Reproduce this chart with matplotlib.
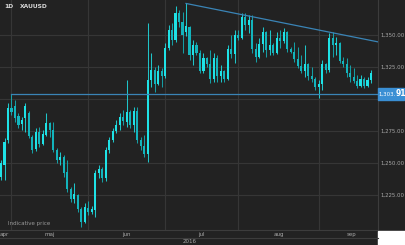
import numpy as np
import matplotlib
matplotlib.use("Agg")
import matplotlib.pyplot as plt

# daily XAUUSD candles, late Apr - mid Sep 2016
opens = [1239.0, 1248.4, 1267.9, 1293.0, 1294.5, 1286.7, 1280.4, 1285.1, 1289.0, 1270.5,
         1261.0, 1274.0, 1265.0, 1272.0, 1281.0, 1276.0, 1260.0, 1252.0, 1255.0, 1243.0,
         1230.0, 1222.0, 1225.0, 1214.0, 1204.0, 1215.0, 1212.0, 1213.0, 1242.0, 1245.0,
         1238.0, 1260.0, 1268.0, 1275.0, 1280.0, 1286.0, 1282.0, 1290.0, 1280.0, 1291.0,
         1268.0, 1263.0, 1257.0, 1315.0, 1323.0, 1312.0, 1322.0, 1318.0, 1340.0, 1354.0,
         1346.0, 1367.0, 1360.0, 1352.0, 1356.0, 1334.0, 1342.0, 1336.0, 1322.0, 1332.0,
         1327.0, 1316.0, 1332.0, 1318.0, 1322.0, 1316.0, 1339.0, 1335.0, 1350.0, 1348.0,
         1364.0, 1358.0, 1362.0, 1339.0, 1333.0, 1343.0, 1352.0, 1338.0, 1342.0, 1336.0,
         1348.0, 1345.0, 1352.0, 1339.0, 1337.0, 1331.0, 1326.0, 1322.0, 1327.0, 1318.0,
         1316.0, 1309.0, 1312.0, 1327.0, 1323.0, 1348.0, 1342.0, 1344.0, 1330.0, 1327.0,
         1320.0, 1317.0, 1314.0, 1310.0, 1316.0, 1310.0, 1315.0]
highs = [1252.3, 1269.5, 1296.8, 1303.9, 1299.2, 1289.0, 1285.9, 1296.8, 1291.0, 1271.5,
         1277.3, 1278.1, 1275.7, 1289.0, 1282.0, 1282.0, 1261.7, 1258.6, 1256.2, 1252.3,
         1231.0, 1234.3, 1226.0, 1215.6, 1218.7, 1220.3, 1216.4, 1244.5, 1248.4, 1246.8,
         1262.5, 1270.3, 1277.3, 1283.6, 1289.0, 1291.4, 1314.8, 1291.4, 1293.7, 1293.7,
         1270.3, 1271.8, 1359.3, 1335.9, 1325.0, 1326.5, 1324.2, 1343.7, 1357.8, 1359.3,
         1373.0, 1369.5, 1367.9, 1375.0, 1357.0, 1346.1, 1344.5, 1338.3, 1335.9, 1332.8,
         1338.3, 1335.9, 1334.3, 1326.5, 1323.0, 1342.2, 1350.0, 1353.9, 1353.9, 1367.2,
         1367.2, 1365.6, 1365.6, 1343.7, 1347.6, 1356.2, 1353.0, 1353.9, 1343.7, 1352.3,
         1353.9, 1355.4, 1353.0, 1340.6, 1344.5, 1340.6, 1334.3, 1342.2, 1328.0, 1325.0,
         1317.0, 1314.8, 1330.4, 1328.1, 1351.5, 1352.3, 1348.4, 1344.5, 1332.8, 1332.0,
         1326.5, 1324.2, 1318.7, 1318.7, 1317.0, 1317.2, 1322.6]
lows = [1236.7, 1236.7, 1265.6, 1287.5, 1282.0, 1277.3, 1275.7, 1274.2, 1269.5, 1257.8,
        1259.5, 1262.5, 1264.0, 1271.0, 1270.3, 1258.6, 1250.0, 1248.4, 1239.0, 1227.3,
        1219.5, 1218.7, 1211.7, 1200.0, 1203.0, 1209.4, 1210.5, 1207.8, 1238.2, 1235.1,
        1236.0, 1257.8, 1266.4, 1273.4, 1275.7, 1279.7, 1278.0, 1277.3, 1274.2, 1265.6,
        1260.1, 1254.7, 1250.7, 1309.3, 1305.4, 1310.9, 1309.3, 1316.5, 1338.3, 1342.2,
        1344.5, 1356.2, 1335.9, 1349.5, 1330.4, 1326.5, 1334.3, 1320.3, 1320.5, 1325.0,
        1312.5, 1313.3, 1313.3, 1313.3, 1313.3, 1315.0, 1332.0, 1328.1, 1346.1, 1347.0,
        1353.9, 1351.5, 1335.9, 1328.9, 1332.0, 1336.7, 1332.8, 1334.3, 1334.3, 1335.0,
        1339.8, 1343.7, 1336.7, 1335.9, 1328.9, 1324.2, 1320.3, 1317.2, 1314.8, 1313.3,
        1307.0, 1300.8, 1307.0, 1320.3, 1321.1, 1332.8, 1334.3, 1328.1, 1325.0, 1317.2,
        1313.3, 1312.5, 1308.6, 1309.0, 1308.6, 1309.5, 1312.5]
closes = [1250.0, 1266.4, 1292.9, 1290.0, 1285.1, 1279.7, 1283.6, 1294.5, 1271.0, 1260.1,
          1274.2, 1265.0, 1273.0, 1281.0, 1276.0, 1260.0, 1252.0, 1255.0, 1242.0, 1230.0,
          1222.0, 1226.0, 1214.0, 1204.0, 1216.0, 1212.0, 1214.0, 1242.0, 1245.0, 1238.0,
          1260.0, 1268.0, 1275.0, 1280.0, 1286.0, 1283.0, 1290.0, 1280.0, 1291.0, 1268.0,
          1263.0, 1257.0, 1315.0, 1323.0, 1312.0, 1322.0, 1318.0, 1340.0, 1354.0, 1346.0,
          1367.0, 1360.0, 1350.0, 1357.0, 1334.0, 1342.0, 1336.0, 1322.0, 1332.0, 1327.0,
          1316.0, 1332.0, 1318.0, 1322.0, 1316.0, 1339.0, 1335.0, 1350.0, 1348.0, 1364.0,
          1358.0, 1362.0, 1339.0, 1333.0, 1343.0, 1352.0, 1338.0, 1342.0, 1336.0, 1348.0,
          1345.0, 1352.0, 1339.0, 1337.0, 1331.0, 1326.0, 1322.0, 1327.0, 1318.0, 1316.0,
          1309.0, 1312.0, 1327.0, 1323.0, 1348.0, 1342.0, 1344.0, 1330.0, 1327.0, 1320.0,
          1317.0, 1314.0, 1310.0, 1316.0, 1310.0, 1315.0, 1320.0]

month_starts = [3, 25, 47, 68, 91]          # candle index of 1st trading day
month_labels = ["apr", "maj", "jun", "jul", "aug", "sep"]
month_label_pos = [0.9, 14, 36, 57.5, 79.5, 100.5]
price_ticks = [1225, 1250, 1275, 1300, 1325, 1350]
level_price = 1303.91
level_start = 3
trend_x = [53, 108]
trend_y = [1374.6, 1344.6]

BG = "#222222"
GRID = "#363636"
TXT = "#a8a8a8"
UP = "#1fe2e6"
DOWN = "#13b4bc"
LINE = "#3a84b6"

fig = plt.figure(figsize=(4.06, 2.45), dpi=100, facecolor=BG)
ax = fig.add_axes([0, 15 / 245, 378 / 406, 230 / 245], facecolor=BG)

o = np.array(opens); h = np.array(highs); l = np.array(lows); c = np.array(closes)
idx = np.arange(len(o))
cols = [UP if cc >= oo else DOWN for oo, cc in zip(o, c)]

ax.vlines(idx, l, h, colors=cols, linewidth=0.75, alpha=0.85, zorder=3)
ax.bar(idx, np.maximum(np.abs(c - o), 0.6), bottom=np.minimum(o, c), width=0.6,
       color=cols, linewidth=0, zorder=4)

ax.plot([level_start, 110], [level_price, level_price], color=LINE, lw=0.9, zorder=5)
ax.plot(trend_x, trend_y, color=LINE, lw=0.9, zorder=5)

ax.set_xlim(-0.29, 108.0)
ax.set_ylim(1197.7, 1377.3)

ax.set_xticks(month_starts)
ax.set_xticklabels([])
ax.set_xticks(month_label_pos, minor=True)
ax.set_xticklabels(month_labels, minor=True)
ax.tick_params(axis="x", which="both", length=0, pad=1.5, labelsize=4.0, labelcolor=TXT)

ax.yaxis.tick_right()
ax.set_yticks(price_ticks)
ax.set_yticklabels(["" if p == 1300 else f"{p:,.2f}" for p in price_ticks])
ax.tick_params(axis="y", length=0, pad=2.0, labelsize=3.9, labelcolor=TXT)
for t in ax.get_yticklabels():
    t.set_va("center")

ax.grid(True, which="major", color=GRID, linewidth=0.8)
for side in ("top", "left"):
    ax.spines[side].set_visible(False)
ax.spines["right"].set_color("#3c3c3c")
ax.spines["bottom"].set_color("#3c3c3c")
ax.spines["right"].set_linewidth(0.8)
ax.spines["bottom"].set_linewidth(0.8)

# bottom strips and corner
fig.add_artist(plt.Line2D([0, 378 / 406], [7.5 / 245, 7.5 / 245], color="#3c3c3c", lw=0.8))
fig.add_artist(plt.Rectangle((378.5 / 406, 0), 28 / 406, 14.5 / 245, color="white"))
fig.text(190 / 406, 4 / 245, "2016", color=TXT, fontsize=4.0, ha="center", va="center")

# header and footer texts
fig.text(4 / 406, 1 - 6 / 245, "1D", color="#d8d8d8", fontsize=4.3, fontweight="bold", va="center")
fig.text(20 / 406, 1 - 6 / 245, "XAUUSD", color="#d8d8d8", fontsize=4.3, fontweight="bold", va="center")
fig.text(8 / 406, 22 / 245, "Indicative price", color="#9a9a9a", fontsize=4.0, va="center")

# current level tag
ytag = ax.transData.transform((0, level_price))[1] / fig.bbox.height
fig.add_artist(plt.Rectangle((378.5 / 406, ytag - 6 / 245), 26 / 406, 12 / 245, color="#3a8fd4"))
fig.text(395.5 / 406, ytag, "1,303.", color="white", fontsize=3.9, ha="right", va="center")
fig.text(395.5 / 406, ytag, "91", color="white", fontsize=5.5, fontweight="bold", ha="left", va="center")

fig.savefig("out.png", dpi=100, facecolor=BG)
